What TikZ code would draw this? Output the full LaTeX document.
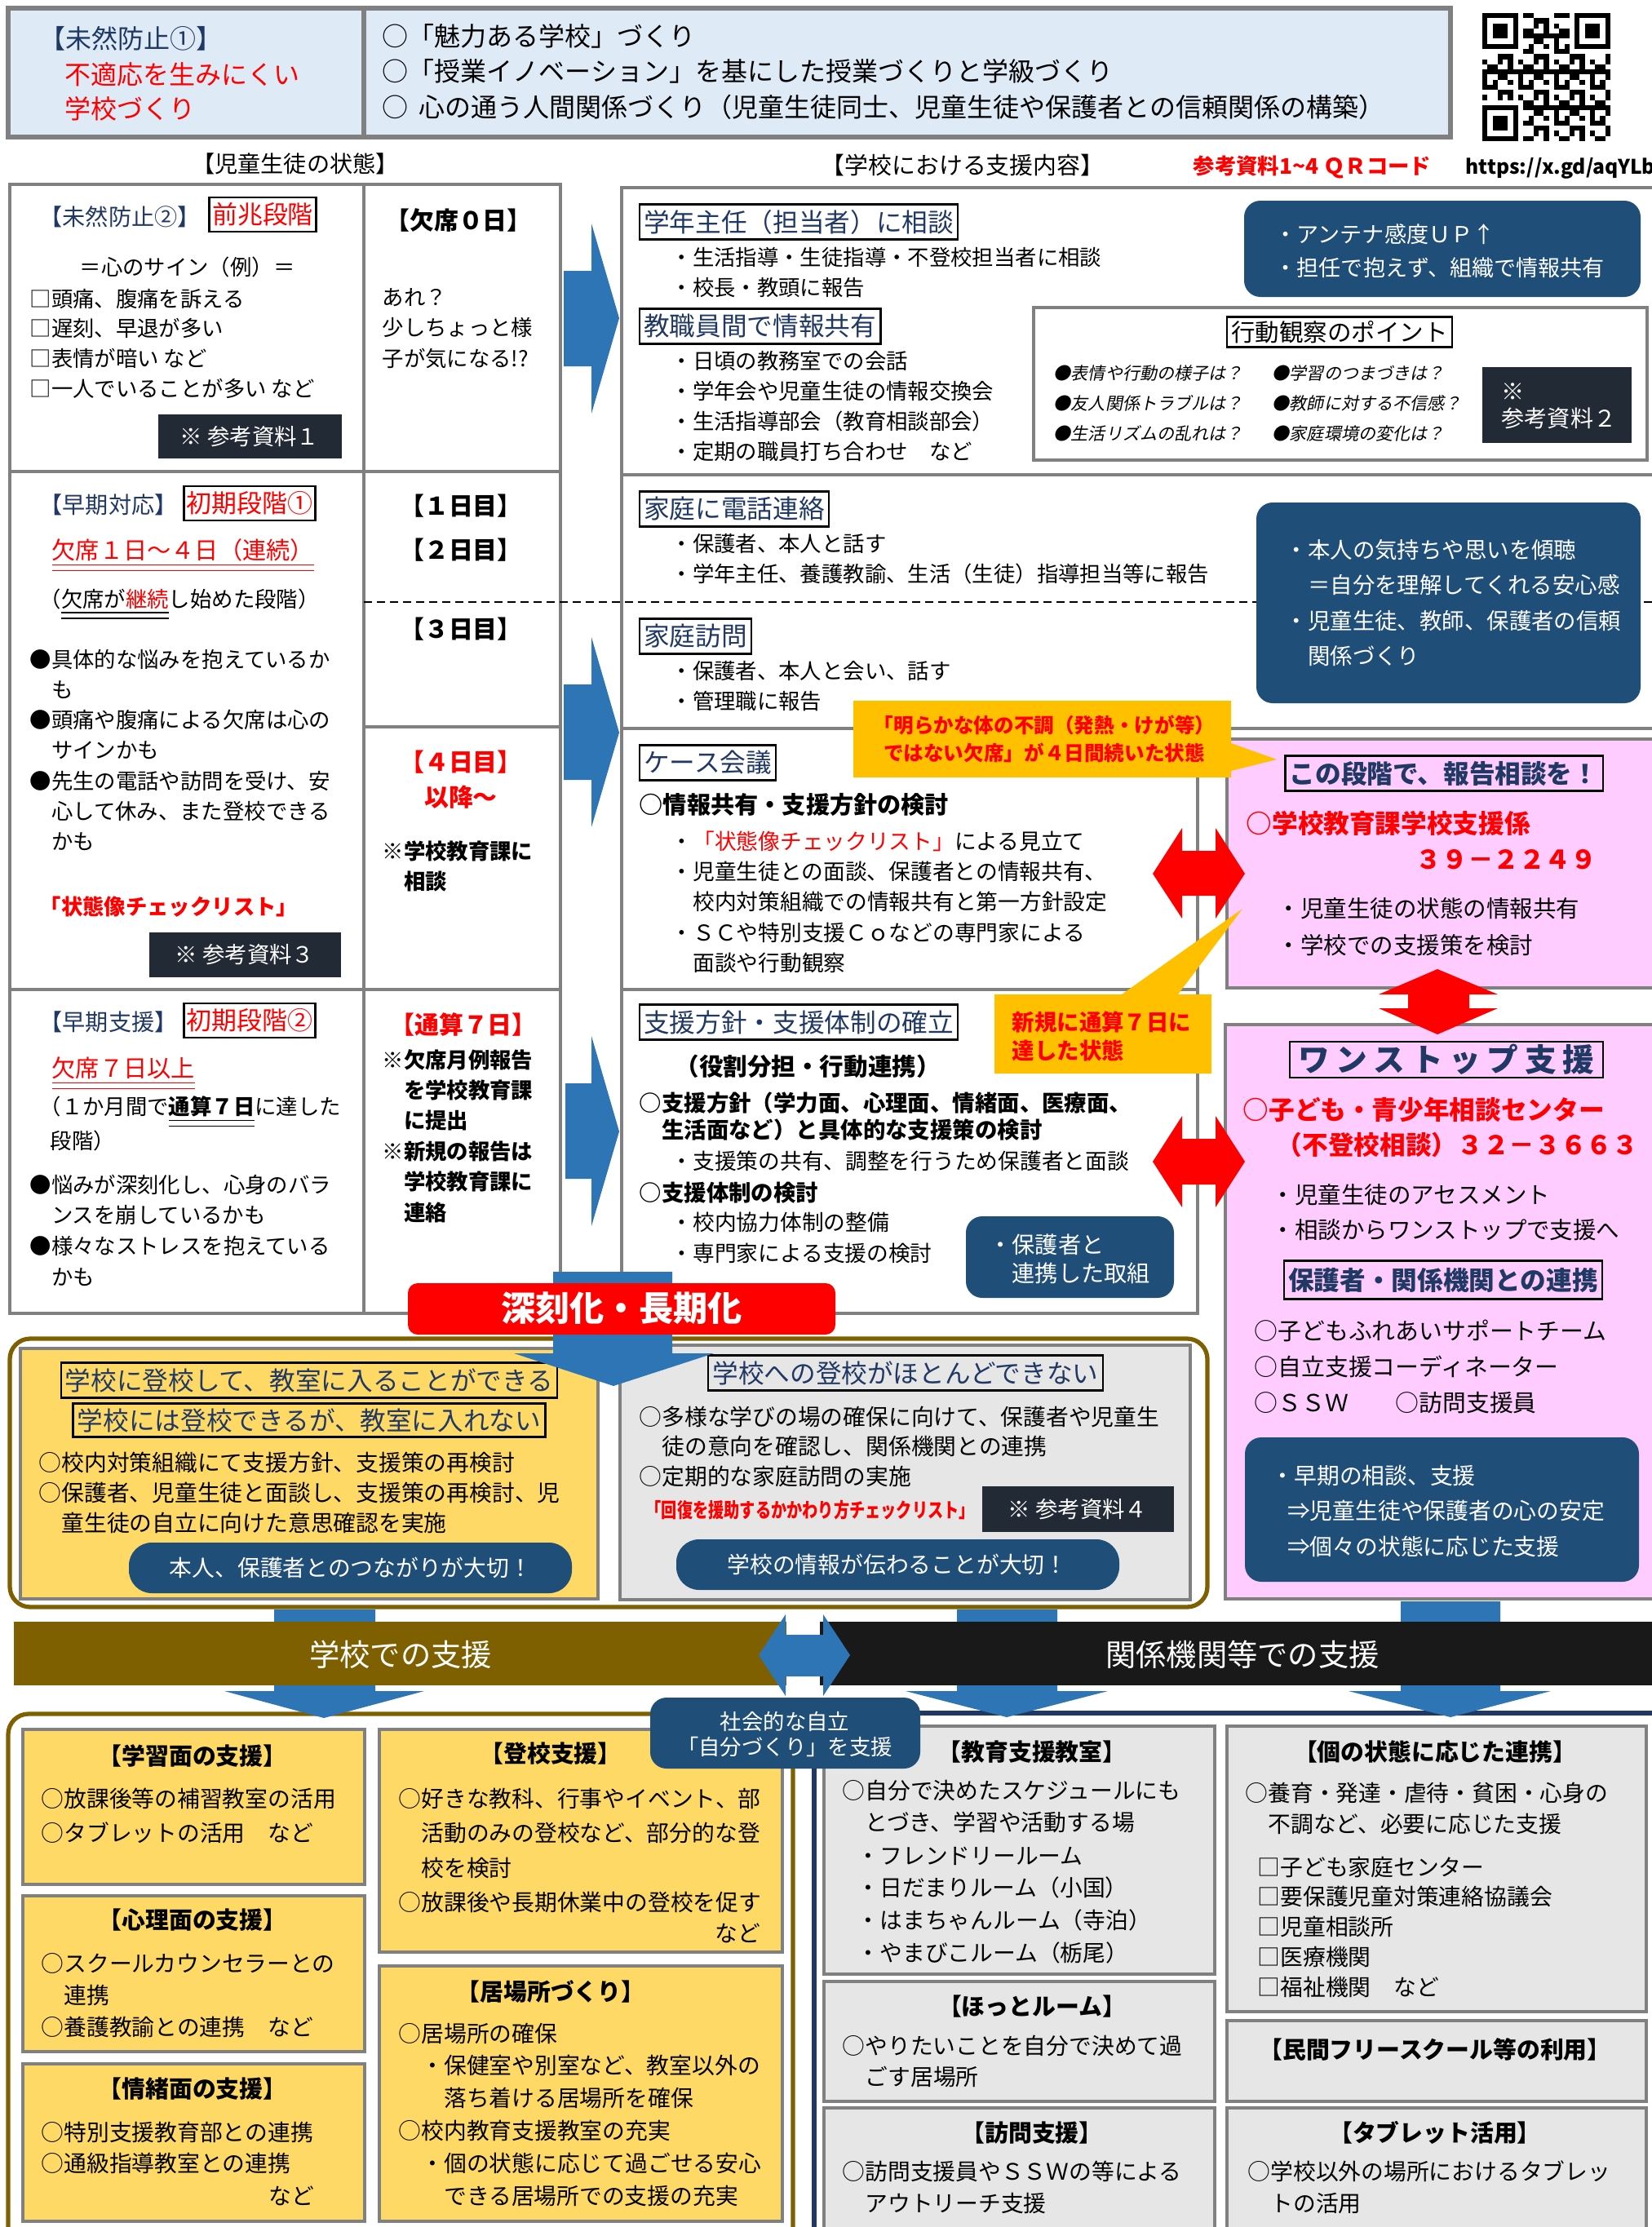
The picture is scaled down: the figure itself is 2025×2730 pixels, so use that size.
\documentclass[tikz,border=0pt]{standalone}
\usepackage{fontspec}
\setmainfont{Noto Sans CJK JP}
\setsansfont{Noto Sans CJK JP}
\newfontfamily\spacedfont[LetterSpace=20]{Noto Sans CJK JP}
\newfontfamily\slantfont[FakeSlant=0.2]{Noto Sans CJK JP}
\usepackage{graphicx}

\definecolor{navytext}{HTML}{203864}
\definecolor{topblue}{HTML}{DEEBF7}
\definecolor{framegray}{HTML}{808080}
\definecolor{darkbox}{HTML}{222A35}
\definecolor{navybox}{HTML}{1F4E79}
\definecolor{arrowblue}{HTML}{2E75B6}
\definecolor{callorange}{HTML}{FFC000}
\definecolor{pinkbg}{HTML}{FFCCFF}
\definecolor{yellowbg}{HTML}{FFD966}
\definecolor{graybg}{HTML}{E7E6E6}
\definecolor{olivebrown}{HTML}{7F6000}
\definecolor{bandblack}{HTML}{191919}
\definecolor{navyline}{HTML}{1F3864}

\newcommand{\fsz}[2]{\fontsize{#1}{#2}\selectfont}
\newcommand{\dblul}[1]{\underline{\underline{#1}}}
\newcommand{\lns}[1]{\begin{tabular}[t]{@{}l@{}}#1\end{tabular}}
\newcommand{\lnsc}[1]{\begin{tabular}[t]{@{}c@{}}#1\end{tabular}}

\begin{document}
\begin{tikzpicture}[x=0.01cm, y=-0.01cm,
    frame/.style={draw=framegray, line width=1.2pt},
    txt/.style={anchor=base west, inner sep=0pt, font=\fsz{7.5pt}{10.65pt}},
    lowtxt/.style={anchor=base west, inner sep=0pt, font=\fsz{7.9pt}{11.3pt}},
    headbox/.style={draw=black, line width=0.6pt, anchor=west, text=navytext, inner xsep=1.5pt, inner ysep=0pt, minimum height=0.43cm, font=\fsz{9pt}{11pt}},
    stagebox/.style={draw=black, line width=0.8pt, text=red, inner xsep=1pt, inner ysep=0pt, minimum height=0.42cm, font=\fsz{8.8pt}{10pt}},
    rowhead/.style={anchor=base west, inner sep=0pt, text=navytext, font=\fsz{8pt}{10pt}},
    dayhead/.style={anchor=base, inner sep=0pt, font=\bfseries\fsz{8.5pt}{10pt}},
    whitetxt/.style={anchor=base west, inner sep=0pt, text=white, font=\fsz{7.8pt}{12.4pt}},
    reftxt/.style={inner sep=0pt, text=white, font=\fsz{7.8pt}{11.5pt}},
    boxtitle/.style={anchor=base, inner sep=0pt, font=\bfseries\fsz{8.2pt}{10pt}},
    calltxt/.style={anchor=base west, inner sep=0pt, text=red, font=\bfseries\fsz{7.8pt}{10.2pt}},
  ]
\useasboundingbox (0,0) rectangle (2025,2730);
\fill[white] (0,0) rectangle (2025,2730);

% Top: prevention 1
%% Boxes
\fill[topblue] (10,10) rectangle (1778,168);
\draw[frame, line width=1.6pt] (10,10) rectangle (446,168);
\draw[frame, line width=1.6pt] (446,10) rectangle (1778,168);
%% Texts
\node[rowhead, font=\fsz{9.1pt}{11pt}] (prevhead) at (48,60) {【未然防止①】};
\node[anchor=base west, inner sep=0pt, text=red, font=\fsz{9.1pt}{11.95pt}] (prevtxt) at (79,103) {\lns{不適応を生みにくい\\学校づくり}};
\node[anchor=base west, inner sep=0pt, font=\fsz{9.1pt}{12.4pt}] (prevlist) at (468,56) {\lns{○「魅力ある学校」づくり\\○「授業イノベーション」を基にした授業づくりと学級づくり\\○\hspace{0.4em}心の通う人間関係づくり（児童生徒同士、児童生徒や保護者との信頼関係の構築）}};

%% QR code
\foreach \qi/\qj in {0/0,18/0,0/18}{
  \fill (1817+\qi*6.28,16+\qj*6.28) rectangle ++(43.96,43.96);
  \fill[white] (1823.28+\qi*6.28,22.28+\qj*6.28) rectangle ++(31.4,31.4);
  \fill (1829.56+\qi*6.28,28.56+\qj*6.28) rectangle ++(18.84,18.84);
}
\foreach \qi in {0,...,24}{
  \foreach \qj in {0,...,24}{
    \pgfmathtruncatemacro\qv{mod(\qi*\qi*7+\qj*\qj*3+\qi*\qj*5+\qi+2*\qj,7)}
    \pgfmathtruncatemacro\qz{(\qi<8 && \qj<8) || (\qi>16 && \qj<8) || (\qi<8 && \qj>16)}
    \ifnum\qz=0 \ifnum\qv<3 \fill (1817+\qi*6.28,16+\qj*6.28) rectangle ++(6.28,6.28); \fi\fi
  }
}

%% Column labels
\node[anchor=base, inner sep=0pt, font=\fsz{8pt}{10pt}] (lblstate) at (362,211) {【児童生徒の状態】};
\node[anchor=base, inner sep=0pt, font=\fsz{8.2pt}{10pt}] (lblsupport) at (1180,213) {【学校における支援内容】};
\node[anchor=base west, inner sep=0pt, text=red, font=\bfseries\fsz{7.5pt}{10pt}] (lblqr) at (1462,213) {参考資料1\textasciitilde4 ＱＲコード};
\node[anchor=base west, inner sep=0pt, font=\bfseries\fsz{7pt}{10pt}] (lblurl) at (1796,213) {https://x.gd/aqYLb};

% Frames
%% Pupil state
\draw[frame] (12,226) rectangle (687,1610);
\draw[frame] (446,226) -- (446,1610);
\draw[frame] (12,578) -- (687,578);
\draw[frame] (12,1213) -- (687,1213);
\draw[frame] (446,891) -- (687,891);
%% School support
\draw[frame] (2040,230) -- (762,230) -- (762,1610) -- (1468,1610) -- (1468,893);
\draw[frame] (762,582) -- (2040,582);
\draw[frame] (762,893) -- (2040,893);
\draw[frame] (762,1213) -- (1468,1213);
\draw[line width=0.7pt, dash pattern=on 0.1cm off 0.06cm] (446,738) -- (2040,738);
%% Pink boxes
\draw[frame, fill=pinkbg] (1504,906) rectangle (2040,1211);
\draw[frame, fill=pinkbg] (1502,1256) rectangle (2040,1960);

% Row 1: signs
%% Pupil state
\node[rowhead] (r1head) at (48,276) {【未然防止②】};
\node[stagebox] (r1stage) at (322,263) {前兆段階};
\node[txt] (r1sign) at (97,337) {＝心のサイン（例）＝};
\node[txt, font=\fsz{7.5pt}{10.5pt}] (r1list) at (36,376) {\lns{□頭痛、腹痛を訴える\\□遅刻、早退が多い\\□表情が暗い など\\□一人でいることが多い など}};
\fill[darkbox] (194,508) rectangle (419,562);
\node[reftxt] (r1ref) at (306,535) {※ 参考資料１};
%% Absence days
\node[dayhead] (r1day) at (562,281) {【欠席０日】};
\node[txt, font=\fsz{7.5pt}{10.7pt}] (r1note) at (468,374) {\lns{あれ？\\少しちょっと様\\子が気になる!?}};
%% Arrow
\fill[arrowblue] (691,332) -- (725,332) -- (725,274) -- (759,390) -- (725,507) -- (725,449) -- (691,449) -- cycle;
%% Support
\node[headbox] (r1supA) at (783,272) {学年主任（担当者）に相談};
\node[txt] (r1listA) at (822,325) {\lns{・生活指導・生徒指導・不登校担当者に相談\\・校長・教頭に報告}};
\node[headbox] (r1supB) at (783,400) {教職員間で情報共有};
\node[txt, font=\fsz{7.5pt}{10.55pt}] (r1listB) at (822,452) {\lns{・日頃の教務室での会話\\・学年会や児童生徒の情報交換会\\・生活指導部会（教育相談部会）\\・定期の職員打ち合わせ　など}};
\fill[navybox, rounded corners=0.2cm] (1525,246) rectangle (2011,364);
\node[whitetxt, font=\fsz{7.7pt}{11.9pt}] (r1antenna) at (1562,297) {\lns{・アンテナ感度ＵＰ↑\\・担任で抱えず、組織で情報共有}};
%% Observation points
\draw[frame, fill=white] (1267,377) rectangle (2019,564);
\node[draw=black, line width=0.6pt, inner xsep=1.5pt, inner ysep=0pt, minimum height=0.37cm, font=\fsz{8.4pt}{10pt}] (r1obs) at (1642,407) {行動観察のポイント};
\node[anchor=base west, inner sep=0pt, font=\slantfont\fsz{6pt}{10.65pt}] (r1obsA) at (1291,465) {\lns{●表情や行動の様子は？\\●友人関係トラブルは？\\●生活リズムの乱れは？}};
\node[anchor=base west, inner sep=0pt, font=\slantfont\fsz{6pt}{10.65pt}] (r1obsB) at (1559,465) {\lns{●学習のつまづきは？\\●教師に対する不信感？\\●家庭環境の変化は？}};
\fill[darkbox] (1817,450) rectangle (2000,543);
\node[reftxt, anchor=base west, font=\fsz{8pt}{9.4pt}] (r1ref2) at (1840,490) {\lns{※\\参考資料２}};

% Row 2: early response
%% Pupil state
\node[rowhead] (r2head) at (48,629) {【早期対応】};
\node[stagebox] (r2stage) at (306,617) {初期段階①};
\node[anchor=base west, inner sep=0pt, text=red, font=\fsz{8.3pt}{10pt}] (r2days) at (63,685) {\dblul{欠席１日～４日（連続）}};
\node[txt] (r2phase) at (48,744) {（\dblul{欠席が\textcolor{red}{継続}}し始めた段階）};
\node[txt, font=\fsz{7.5pt}{10.6pt}] (r2list) at (36,818) {\lns{●具体的な悩みを抱えているか\\\phantom{●}も\\●頭痛や腹痛による欠席は心の\\\phantom{●}サインかも\\●先生の電話や訪問を受け、安\\\phantom{●}心して休み、また登校できる\\\phantom{●}かも}};
\node[anchor=base west, inner sep=0pt, text=red, font=\bfseries\fsz{7.5pt}{10pt}] (r2check) at (48,1121) {「状態像チェックリスト」};
\fill[darkbox] (183,1143) rectangle (418,1198);
\node[reftxt] (r2ref) at (300,1170) {※ 参考資料３};
%% Absence days
\node[dayhead] (r2dayA) at (565,631) {【１日目】};
\node[dayhead] (r2dayB) at (565,685) {【２日目】};
\node[dayhead] (r2dayC) at (565,782) {【３日目】};
\node[dayhead, text=red, font=\bfseries\fsz{8.5pt}{12.5pt}] (r2dayD) at (565,945) {\lnsc{【４日目】\\以降～}};
\node[txt, font=\bfseries\fsz{7.5pt}{10.65pt}] (r2note) at (468,1053) {\lns{※学校教育課に\\\phantom{※}相談}};
%% Arrow
\fill[arrowblue] (691,839) -- (725,839) -- (725,781) -- (759,898) -- (725,1014) -- (725,956) -- (691,956) -- cycle;
%% Support
\node[headbox] (r2supA) at (783,624) {家庭に電話連絡};
\node[txt] (r2listA) at (822,676) {\lns{・保護者、本人と話す\\・学年主任、養護教諭、生活（生徒）指導担当等に報告}};
\node[headbox] (r2supB) at (783,780) {家庭訪問};
\node[txt] (r2listB) at (822,832) {\lns{・保護者、本人と会い、話す\\・管理職に報告}};
\fill[navybox, rounded corners=0.2cm] (1540,616) rectangle (2011,862);
\node[whitetxt] (r2listen) at (1575,684) {\lns{・本人の気持ちや思いを傾聴\\\phantom{・}＝自分を理解してくれる安心感\\・児童生徒、教師、保護者の信頼\\\phantom{・}関係づくり}};

% Row 3: case meeting
\node[headbox] (r3supA) at (783,935) {ケース会議};
\node[anchor=base west, inner sep=0pt, font=\bfseries\fsz{8.3pt}{10pt}] (r3share) at (783,997) {○情報共有・支援方針の検討};
\node[txt, font=\fsz{7.6pt}{10.65pt}] (r3listA) at (822,1041) {\lns{・\textcolor{red}{「状態像チェックリスト」}による見立て\\・児童生徒との面談、保護者との情報共有、\\\phantom{・}校内対策組織での情報共有と第一方針設定\\・ＳＣや特別支援Ｃｏなどの専門家による\\\phantom{・}面談や行動観察}};
%% Consultation
\node[headbox, anchor=center, minimum width=3.87cm, font=\bfseries\fsz{9pt}{11pt}] (p1head) at (1770,948) {この段階で、報告相談を！};
\node[anchor=base west, inner sep=0pt, text=red, font=\bfseries\fsz{9pt}{11pt}] (p1office) at (1527,1021) {○学校教育課学校支援係};
\node[anchor=base west, inner sep=0pt, text=red, font=\bfseries\fsz{9pt}{11pt}] (p1tel) at (1735,1065) {３９－２２４９};
\node[anchor=base west, inner sep=0pt, font=\fsz{8.1pt}{12.8pt}] (p1list) at (1565,1124) {\lns{・児童生徒の状態の情報共有\\・学校での支援策を検討}};
%% Callout
\fill[callorange] (1046,859) -- (1509,859) -- (1509,911) -- (1565,931) -- (1509,945) -- (1509,953) -- (1046,953) -- cycle;
\node[anchor=base, inner sep=0pt, text=red, font=\bfseries\fsz{7pt}{9.85pt}] (call1) at (1280,898) {\lnsc{「明らかな体の不調（発熱・けが等）\\ではない欠席」が４日間続いた状態}};
\fill[red] (1413,1071) -- (1449,1015) -- (1449,1043) -- (1490,1043) -- (1490,1015) -- (1526,1071) -- (1490,1126) -- (1490,1098) -- (1449,1098) -- (1449,1126) -- cycle;

% Row 4: early support
%% Pupil state
\node[rowhead] (r3head) at (48,1263) {【早期支援】};
\node[stagebox] (r3stage) at (306,1251) {初期段階②};
\node[anchor=base west, inner sep=0pt, text=red, font=\fsz{8.3pt}{10pt}] (r3days) at (63,1320) {\dblul{欠席７日以上}};
\node[txt] (r3phase) at (48,1366) {\lns{（１か月間で\textbf{\dblul{通算７日}}に達した\\\hspace*{0.5em}段階）}};
\node[txt, font=\fsz{7.5pt}{10.75pt}] (r3list) at (36,1462) {\lns{●悩みが深刻化し、心身のバラ\\\phantom{●}ンスを崩しているかも\\●様々なストレスを抱えている\\\phantom{●}かも}};
%% Absence days
\node[dayhead, text=red] (r3day) at (568,1267) {【通算７日】};
\node[txt, font=\bfseries\fsz{7.5pt}{10.65pt}] (r3note) at (468,1309) {\lns{※欠席月例報告\\\phantom{※}を学校教育課\\\phantom{※}に提出\\※新規の報告は\\\phantom{※}学校教育課に\\\phantom{※}連絡}};
%% Arrow
\fill[arrowblue] (693,1328) -- (725,1328) -- (725,1270) -- (759,1387) -- (725,1503) -- (725,1445) -- (693,1445) -- cycle;
%% Support
\node[headbox] (r4supA) at (783,1253) {支援方針・支援体制の確立};
\node[anchor=base west, inner sep=0pt, font=\bfseries\fsz{8.4pt}{10pt}] (r4role) at (827,1318) {（役割分担・行動連携）};
\node[anchor=base west, inner sep=0pt, font=\bfseries\fsz{7.8pt}{9.6pt}] (r4policy) at (783,1362) {\lns{○支援方針（学力面、心理面、情緒面、医療面、\\\phantom{○}生活面など）と具体的な支援策の検討}};
\node[txt, font=\fsz{7.6pt}{10pt}] (r4listA) at (822,1433) {・支援策の共有、調整を行うため保護者と面談};
\node[anchor=base west, inner sep=0pt, font=\bfseries\fsz{7.8pt}{10pt}] (r4system) at (783,1472) {○支援体制の検討};
\node[txt, font=\fsz{7.6pt}{10.8pt}] (r4listB) at (822,1508) {\lns{・校内協力体制の整備\\・専門家による支援の検討}};
\fill[navybox, rounded corners=0.2cm] (1184,1491) rectangle (1439,1591);
\node[whitetxt, font=\fsz{8pt}{10pt}] (r4parents) at (1212,1536) {\lns{・保護者と\\\phantom{・}連携した取組}};
%% One-stop support
\node[headbox, anchor=center, minimum width=3.84cm, minimum height=0.44cm, font=\spacedfont\bfseries\fsz{11pt}{12pt}] (p2head) at (1773,1299) {ワンストップ支援};
\node[anchor=base west, inner sep=0pt, text=red, font=\bfseries\fsz{9pt}{12.5pt}] (p2center) at (1523,1372) {\lns{○子ども・青少年相談センター\\\hspace*{1.3em}（不登校相談）３２－３６６３}};
\node[anchor=base west, inner sep=0pt, font=\fsz{8.1pt}{12.4pt}] (p2list) at (1558,1475) {\lns{・児童生徒のアセスメント\\・相談からワンストップで支援へ}};
\node[headbox, anchor=center, minimum width=3.84cm, minimum height=0.47cm, font=\bfseries\fsz{9pt}{11pt}] (p2link) at (1769,1569) {保護者・関係機関との連携};
\node[anchor=base west, inner sep=0pt, font=\fsz{8.2pt}{12.6pt}] (p2team) at (1537,1642) {\lns{○子どもふれあいサポートチーム\\○自立支援コーディネーター\\○ＳＳＷ　　○訪問支援員}};
\fill[navybox, rounded corners=0.2cm] (1526,1762) rectangle (2009,1939);
\node[whitetxt, font=\fsz{7.9pt}{12.5pt}] (p2early) at (1558,1819) {\lns{・早期の相談、支援\\\hspace*{0.7em}⇒児童生徒や保護者の心の安定\\\hspace*{0.7em}⇒個々の状態に応じた支援}};
%% Callout and red arrows
\fill[callorange] (1219,1219) -- (1375,1219) -- (1523,1114) -- (1444,1219) -- (1485,1219) -- (1485,1316) -- (1219,1316) -- cycle;
\node[calltxt] (call2) at (1240,1263) {\lns{新規に通算７日に\\達した状態}};
\fill[red] (1413,1424) -- (1449,1368) -- (1449,1396) -- (1490,1396) -- (1490,1368) -- (1526,1424) -- (1490,1480) -- (1490,1452) -- (1449,1452) -- (1449,1480) -- cycle;
\fill[red] (1762,1188) -- (1836,1219) -- (1801,1219) -- (1801,1236) -- (1836,1236) -- (1762,1268) -- (1690,1236) -- (1726,1236) -- (1726,1219) -- (1690,1219) -- cycle;

% Long-term absence
%% Boxes
\draw[olivebrown, line width=1.5pt, rounded corners=0.25cm] (12,1641) rectangle (1480,1970);
\draw[frame, fill=yellowbg] (25,1653) rectangle (733,1960);
\draw[frame, fill=graybg] (760,1649) rectangle (1459,1961);
%% Can attend
\node[headbox, anchor=center] (hyA) at (379,1692) {学校に登校して、教室に入ることができる};
\node[headbox, anchor=center, minimum height=0.41cm] (hyB) at (379,1741) {学校には登校できるが、教室に入れない};
\node[lowtxt, font=\fsz{7.9pt}{10.65pt}] (ylist) at (47,1803) {\lns{○校内対策組織にて支援方針、支援策の再検討\\○保護者、児童生徒と面談し、支援策の再検討、児\\\phantom{○}童生徒の自立に向けた意思確認を実施}};
\fill[navybox, rounded corners=0.28cm] (158,1891) rectangle (701,1953);
\node[text=white, inner sep=0pt, font=\fsz{7.9pt}{10pt}] (ypill) at (430,1922) {本人、保護者とのつながりが大切！};
%% Hardly attends
\node[headbox, anchor=center] (hgA) at (1110,1683) {学校への登校がほとんどできない};
\node[lowtxt, font=\fsz{7.9pt}{10.5pt}] (glist) at (783,1747) {\lns{○多様な学びの場の確保に向けて、保護者や児童生\\\phantom{○}徒の意向を確認し、関係機関との連携\\○定期的な家庭訪問の実施}};
\node[anchor=base west, inner sep=0pt, text=red, font=\bfseries\fsz{7pt}{9pt}] (gcheck) at (791,1860) {\scalebox{0.78}[1]{「回復を援助するかかわり方チェックリスト」}};
\fill[darkbox] (1204,1822) rectangle (1439,1878);
\node[reftxt] (gref) at (1321,1850) {※ 参考資料４};
\fill[navybox, rounded corners=0.28cm] (829,1887) rectangle (1372,1949);
\node[text=white, inner sep=0pt, font=\fsz{7.9pt}{10pt}] (gpill) at (1100,1918) {学校の情報が伝わることが大切！};
%% Banner
\fill[arrowblue] (678,1559) -- (824,1559) -- (824,1659) -- (875,1659) -- (752,1699) -- (630,1659) -- (678,1659) -- cycle;
\fill[red, rounded corners=0.12cm] (500,1573) rectangle (1024,1636);
\node[text=white, inner sep=0pt, font=\bfseries\fsz{12pt}{14pt}] (banner) at (762,1604) {深刻化・長期化};

% Bottom: support places
%% Frames
\draw[olivebrown, line width=1.5pt, rounded corners=0.25cm] (10,2760) -- (10,2101) -- (972,2101) -- (972,2760);
\draw[navyline, line width=1.5pt] (998,2760) -- (998,2100) -- (2040,2100);
%% Arrows and bands
\fill[arrowblue] (336,1973) -- (460,1973) -- (460,2073) -- (520,2073) -- (397,2106) -- (275,2073) -- (336,2073) -- cycle;
\fill[arrowblue] (1173,1973) -- (1296,1973) -- (1296,2073) -- (1358,2073) -- (1234,2105) -- (1110,2073) -- (1173,2073) -- cycle;
\fill[arrowblue] (1717,1963) -- (1839,1963) -- (1839,2073) -- (1901,2073) -- (1778,2105) -- (1653,2073) -- (1717,2073) -- cycle;
\fill[olivebrown] (17,1988) rectangle (964,2066);
\fill[bandblack] (1005,1988) rectangle (2040,2066);
\node[text=white, inner sep=0pt, font=\fsz{10.6pt}{12pt}] (bandschool) at (491,2028) {学校での支援};
\node[text=white, inner sep=0pt, font=\fsz{10.6pt}{12pt}] (bandagency) at (1523,2028) {関係機関等での支援};
\fill[arrowblue] (930,2029) -- (963,1979) -- (963,2004) -- (1009,2004) -- (1009,1979) -- (1042,2029) -- (1009,2079) -- (1009,2055) -- (963,2055) -- (963,2079) -- cycle;

%% School support
\draw[frame, fill=yellowbg] (28,2120) rectangle (447,2310);
\node[boxtitle] (ssA) at (236,2163) {【学習面の支援】};
\node[lowtxt, font=\fsz{7.9pt}{12.2pt}] (ssAtxt) at (50,2215) {\lns{○放課後等の補習教室の活用\\○タブレットの活用　など}};
\draw[frame, fill=yellowbg] (28,2324) rectangle (447,2515);
\node[boxtitle] (ssB) at (236,2364) {【心理面の支援】};
\node[lowtxt, font=\fsz{7.9pt}{11.1pt}] (ssBtxt) at (50,2417) {\lns{○スクールカウンセラーとの\\\phantom{○}連携\\○養護教諭との連携　など}};
\draw[frame, fill=yellowbg] (28,2530) rectangle (447,2723);
\node[boxtitle] (ssC) at (236,2571) {【情緒面の支援】};
\node[lowtxt, font=\fsz{7.9pt}{10.8pt}] (ssCtxt) at (50,2624) {\lns{○特別支援教育部との連携\\○通級指導教室との連携}};
\node[lowtxt, anchor=base east] (ssCetc) at (386,2702) {など};
\draw[frame, fill=yellowbg] (465,2120) rectangle (959,2393);
\node[boxtitle] (ssD) at (675,2160) {【登校支援】};
\node[lowtxt, font=\fsz{7.9pt}{12.1pt}] (ssDtxt) at (488,2215) {\lns{○好きな教科、行事やイベント、部\\\phantom{○}活動のみの登校など、部分的な登\\\phantom{○}校を検討\\○放課後や長期休業中の登校を促す}};
\node[lowtxt, anchor=base east] (ssDetc) at (933,2380) {など};
\draw[frame, fill=yellowbg] (465,2410) rectangle (959,2723);
\node[boxtitle] (ssE) at (675,2452) {【居場所づくり】};
\node[lowtxt, font=\fsz{7.9pt}{11.35pt}] (ssEtxt) at (488,2503) {\lns{○居場所の確保\\\phantom{○}・保健室や別室など、教室以外の\\\phantom{○・}落ち着ける居場所を確保\\○校内教育支援教室の充実\\\phantom{○}・個の状態に応じて過ごせる安心\\\phantom{○・}できる居場所での支援の充実}};

%% Agency support
\draw[frame, fill=graybg] (1010,2116) rectangle (1489,2420);
\node[boxtitle] (agA) at (1265,2158) {【教育支援教室】};
\node[lowtxt, font=\fsz{7.9pt}{11.1pt}] (agAtxt) at (1032,2205) {\lns{○自分で決めたスケジュールにも\\\phantom{○}とづき、学習や活動する場}};
\node[lowtxt, font=\fsz{7.9pt}{11.35pt}] (agArooms) at (1050,2285) {\lns{・フレンドリールーム\\・日だまりルーム（小国）\\・はまちゃんルーム（寺泊）\\・やまびこルーム（栃尾）}};
\draw[frame, fill=graybg] (1010,2429) rectangle (1489,2576);
\node[boxtitle] (agB) at (1265,2470) {【ほっとルーム】};
\node[lowtxt, font=\fsz{7.9pt}{10.8pt}] (agBtxt) at (1032,2518) {\lns{○やりたいことを自分で決めて過\\\phantom{○}ごす居場所}};
\draw[frame, fill=graybg] (1010,2584) rectangle (1489,2760);
\node[boxtitle] (agC) at (1265,2625) {【訪問支援】};
\node[lowtxt, font=\fsz{7.9pt}{11.1pt}] (agCtxt) at (1032,2672) {\lns{○訪問支援員やＳＳＷの等による\\\phantom{○}アウトリーチ支援}};
\draw[frame, fill=graybg] (1504,2116) rectangle (2018,2466);
\node[boxtitle] (agD) at (1759,2158) {【個の状態に応じた連携】};
\node[lowtxt, font=\fsz{7.9pt}{10.8pt}] (agDtxt) at (1526,2208) {\lns{○養育・発達・虐待・貧困・心身の\\\phantom{○}不調など、必要に応じた支援}};
\node[lowtxt, font=\fsz{7.9pt}{10.5pt}] (agDlist) at (1541,2299) {\lns{□子ども家庭センター\\□要保護児童対策連絡協議会\\□児童相談所\\□医療機関\\□福祉機関　など}};
\draw[frame, fill=graybg] (1504,2477) rectangle (2018,2576);
\node[boxtitle] (agE) at (1759,2523) {【民間フリースクール等の利用】};
\draw[frame, fill=graybg] (1504,2584) rectangle (2018,2760);
\node[boxtitle] (agF) at (1759,2625) {【タブレット活用】};
\node[lowtxt, font=\fsz{7.9pt}{11.1pt}] (agFtxt) at (1529,2672) {\lns{○学校以外の場所におけるタブレッ\\\phantom{○}トの活用}};

%% Independence
\fill[navybox, rounded corners=0.2cm] (797,2081) rectangle (1128,2168);
\node[anchor=base, inner sep=0pt, text=white, font=\fsz{7.5pt}{8.5pt}] (selfmade) at (962,2120) {\lnsc{社会的な自立\\「自分づくり」を支援}};
\end{tikzpicture}
\end{document}
